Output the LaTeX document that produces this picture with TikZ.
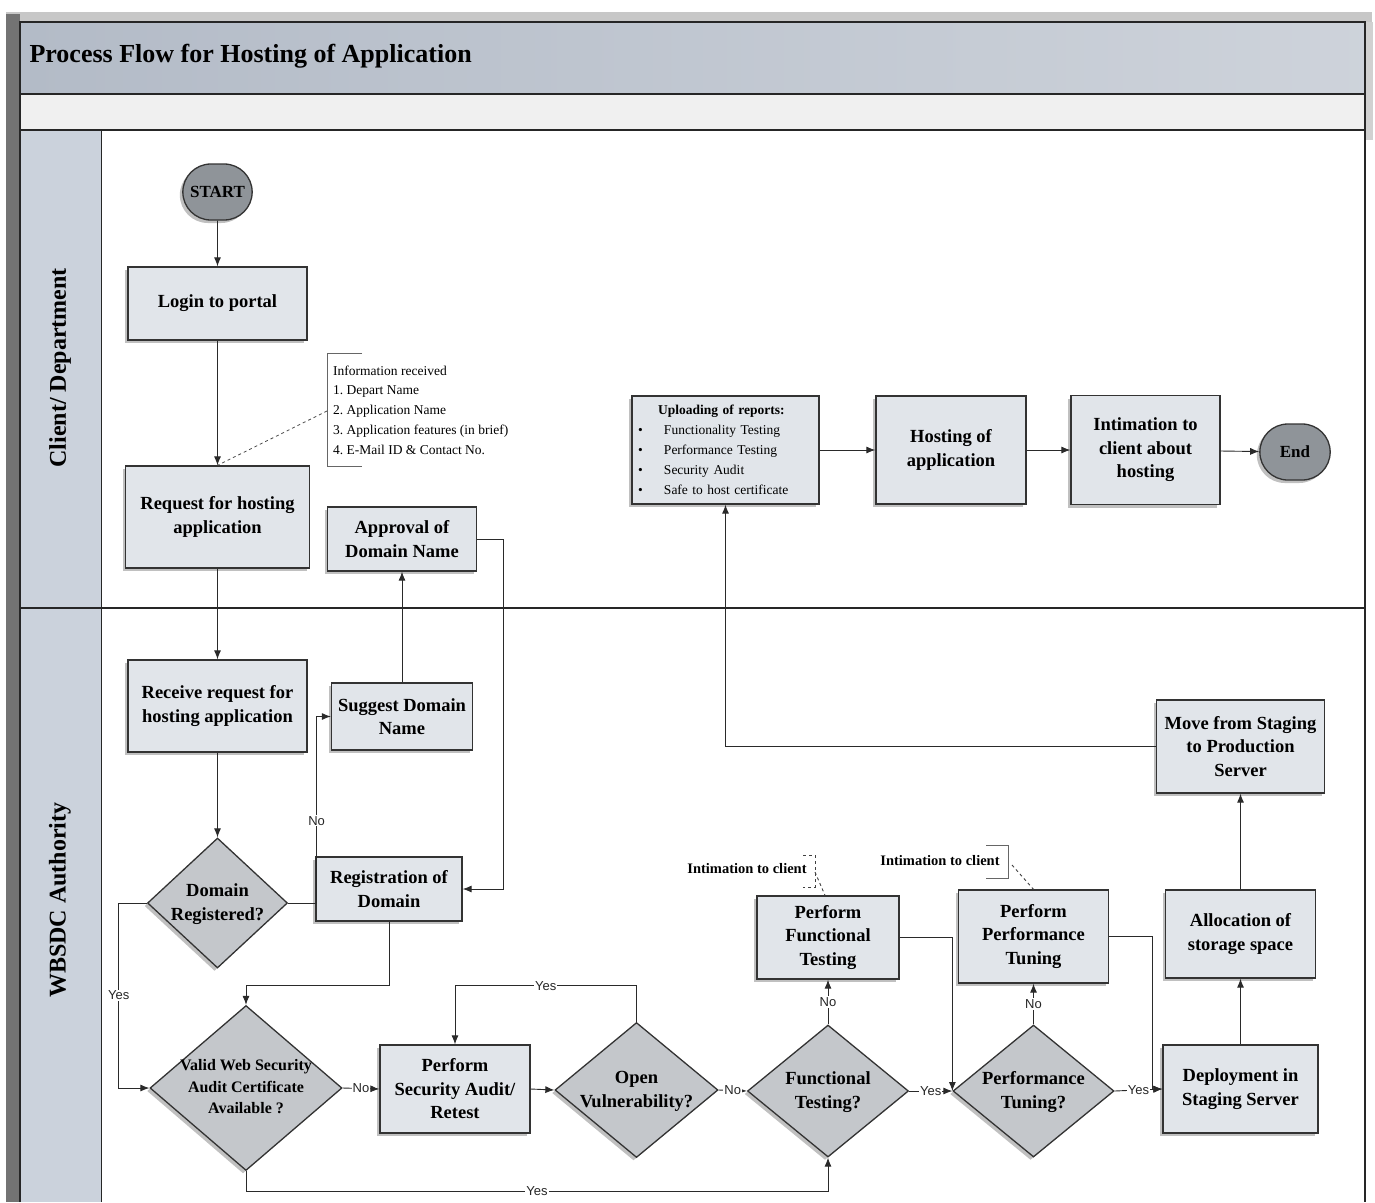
\documentclass[tikz,border=0pt]{standalone}
\usepackage{fontspec}
\setmainfont{Liberation Serif}
\newfontfamily\labfont{Liberation Sans}
\usetikzlibrary{shapes.geometric,shapes.misc,arrows.meta,shadows}
\frenchspacing
\definecolor{boxfill}{HTML}{E1E5EA}
\definecolor{diamfill}{HTML}{C4C7CB}
\definecolor{termfill}{HTML}{8F9499}
\definecolor{titlefill}{HTML}{B3BBC7}
\definecolor{lanefill}{HTML}{CBD2DC}
\definecolor{linecol}{HTML}{2A2A2A}
\newcommand{\boxfont}{\bfseries\fontsize{18.5}{23.5}\selectfont}
\newcommand{\dtxt}[1]{\makebox[0pt]{\raisebox{-0.28em}[0pt][0pt]{\begin{tabular}{@{}c@{}}#1\end{tabular}}}}
\tikzset{
  conn/.style={draw=linecol, line width=0.9pt},
  arr/.style={conn, -{Latex[length=9pt,width=7pt]}},
  shad/.style={drop shadow={shadow xshift=-3pt, shadow yshift=-3pt, opacity=0.35, fill=black!70}},
  box/.style={rectangle, draw=black!80, line width=1.3pt, fill=boxfill, align=center, font=\boxfont, inner sep=3pt, shad},
  diam/.style={diamond, draw=black!80, line width=1.3pt, fill=diamfill, inner sep=0pt, font=\boxfont, shad},
  term/.style={rounded rectangle, draw=black!80, line width=1.3pt, fill=termfill, font=\bfseries\fontsize{17}{20}\selectfont, minimum width=76pt, minimum height=56pt, shad},
  lab/.style={fill=white, font=\labfont\fontsize{13}{14}\selectfont, inner sep=1pt, text=black!85},
  lanelab/.style={rotate=90, font=\bfseries\fontsize{24}{28}\selectfont},
  note/.style={font=\bfseries\fontsize{14.5}{17}\selectfont, inner sep=1pt},
}
\begin{document}
\begin{tikzpicture}[x=1pt,y=-1pt]
\useasboundingbox (0,0) rectangle (1375,1202);
% background and frame
\fill[white] (0,0) rectangle (1375,1202);
\fill[black!22] (6,12) rectangle (1372,22);
\fill[black!55] (6,14) rectangle (20,1202);
\fill[black!18] (1365,22) rectangle (1373,140);
\shade[left color=titlefill, right color=titlefill!65!white] (20,22) rectangle (1365,94);
\fill[black!6] (20,94) rectangle (1365,130);
\fill[lanefill] (20,130) rectangle (101,1202);
\draw[black!85, line width=1.4pt] (20,1202) -- (20,22) -- (1365,22) -- (1365,1202);
\draw[black!85, line width=1.3pt] (20,94) -- (1365,94);
\draw[black!85, line width=1.3pt] (20,130) -- (1365,130);
\draw[black!85, line width=1.3pt] (20,608) -- (1365,608);
\draw[black!85, line width=1pt] (101,130) -- (101,1202);
\node[anchor=west, font=\bfseries\fontsize{26}{30}\selectfont] (title) at (26,56) {Process Flow for Hosting of Application};
\node[lanelab] (lane1) at (60,368) {Client/ Department};
\node[lanelab] (lane2) at (60,900) {WBSDC Authority};

% client lane
\node[term] (start) at (217.5,192) {START};
\node[box, minimum width=179pt, minimum height=73pt] (login) at (217.5,303.5) {Login to portal};
\node[box, minimum width=184pt, minimum height=102pt] (req) at (217.5,517) {Request for hosting\\application};
\node[box, minimum width=149pt, minimum height=64pt] (adn) at (402,539) {Approval of\\Domain Name};
\node[anchor=west, align=left, font=\fontsize{13.5}{19.8}\selectfont, inner sep=0pt] (info) at (333,410) {Information received\\1. Depart Name\\2. Application Name\\3. Application features (in brief)\\4. E-Mail ID \& Contact No.};
\draw[black!60, line width=0.8pt] (362,353) -- (327,353) -- (327,466) -- (362,466);
\coordinate (infoB) at (327,411);
\draw[black!70, dashed, line width=0.8pt] (infoB) -- (req.north);

\node[box, minimum width=187pt, minimum height=108pt, text width=175pt, align=left, font=\fontsize{13.5}{20}\selectfont] (up) at (725.5,450) {\hspace*{20pt}\textbf{Uploading of reports:}\\\makebox[26pt][l]{\textbullet}Functionality Testing\\\makebox[26pt][l]{\textbullet}Performance Testing\\\makebox[26pt][l]{\textbullet}Security Audit\\\makebox[26pt][l]{\textbullet}Safe to host certificate};
\node[box, minimum width=150pt, minimum height=108pt] (host) at (951,450) {Hosting of\\application};
\node[box, minimum width=149pt, minimum height=109pt] (icah) at (1145.5,450) {Intimation to\\client about\\hosting};
\node[term, minimum width=77pt] (end) at (1295,452) {End};

% authority lane
\node[box, minimum width=179pt, minimum height=92pt] (rcv) at (217.5,706) {Receive request for\\hosting application};
\node[box, minimum width=141pt, minimum height=67pt] (sdn) at (402,716.5) {Suggest Domain\\Name};
\node[diam, minimum width=140pt, minimum height=130pt] (dr) at (217.5,903) {\dtxt{Domain\\Registered?}};
\node[box, minimum width=146pt, minimum height=64pt] (rd) at (389,889) {Registration of\\Domain};
\node[diam, minimum width=192pt, minimum height=165pt, font=\bfseries\fontsize{16}{21.5}\selectfont] (vw) at (246,1088) {\dtxt{Valid Web Security\\Audit Certificate\\Available ?}};
\node[box, minimum width=150pt, minimum height=88pt] (psa) at (455,1089) {Perform\\Security Audit/\\Retest};
\node[diam, minimum width=163pt, minimum height=135pt] (ov) at (636.5,1090) {\dtxt{Open\\Vulnerability?}};
\node[diam, minimum width=161pt, minimum height=132pt] (fq) at (828,1091) {\dtxt{Functional\\Testing?}};
\node[box, minimum width=142pt, minimum height=83pt] (pft) at (828,937.5) {Perform\\Functional\\Testing};
\node[diam, minimum width=161pt, minimum height=132pt] (ptq) at (1033.5,1091) {\dtxt{Performance\\Tuning?}};
\node[box, minimum width=150pt, minimum height=93pt] (ppt) at (1033.5,936.5) {Perform\\Performance\\Tuning};
\node[box, minimum width=155pt, minimum height=88pt] (dep) at (1240.5,1089) {Deployment in\\Staging Server};
\node[box, minimum width=150pt, minimum height=88pt] (alloc) at (1240.5,934) {Allocation of\\storage space};
\node[box, minimum width=168pt, minimum height=93pt] (msp) at (1240.5,746.5) {Move from Staging\\to Production\\Server};

% intimation notes
\node[note] (int1) at (747,869) {Intimation to client};
\draw[black!75, dashed, line width=0.9pt] (803,855) -- (815,855) -- (815,887) -- (803,887);
\coordinate (int1B) at (815,872);
\draw[black!75, dashed, line width=0.9pt] (int1B) -- ([xshift=-3pt]pft.north);
\node[note] (int2) at (940,861) {Intimation to client};
\draw[black!60, line width=0.8pt] (986,845) -- (1008,845) -- (1008,878) -- (986,878);
\coordinate (int2B) at (1012,865);
\draw[black!75, dashed, line width=0.9pt] (int2B) -- (ppt.north);

% connectors
\draw[arr] (start) -- (login);
\draw[arr] (login) -- (req);
\draw[arr] (req) -- (rcv);
\draw[arr] (rcv) -- (dr);
\draw[arr] (dr.east) -- ++(28.5,0) |- node[lab,pos=0.22]{No} (sdn.west);
\draw[arr] (sdn) -- (adn);
\draw[arr] (adn.east) -- ++(26,0) |- (rd.east);
\draw[arr] (rd.south) -- ++(0,64) -| (vw.north);
\draw[arr] (dr.west) -- ++(-28,0) |- node[lab,pos=0.25]{Yes} (vw.west);
\draw[arr] (vw.east) -- node[lab]{No} (psa.west);
\draw[arr] (vw.south) -- ++(0,20) -| node[lab,pos=0.25]{Yes} (fq.south);
\draw[arr] (psa.east) -- (ov.west);
\draw[arr] (ov.north) -- ++(0,-36) -| node[lab,pos=0.25]{Yes} (psa.north);
\draw[arr] (ov.east) -- node[lab]{No} (fq.west);
\draw[arr] (fq.north) -- node[lab]{No} (pft.south);
\draw[arr] (fq.east) -- node[lab]{Yes} (ptq.west);
\draw[arr] (pft.east) -| (ptq.west);
\draw[arr] (ptq.north) -- node[lab]{No} (ppt.south);
\draw[arr] (ptq.east) -- node[lab]{Yes} (dep.west);
\draw[arr] (ppt.east) -- ++(43,0) |- (dep.west);
\draw[arr] (dep) -- (alloc);
\draw[arr] (alloc) -- (msp);
\draw[arr] (msp.west) -| (up.south);
\draw[arr] (up) -- (host);
\draw[arr] (host) -- (icah);
\draw[arr] (icah) -- (end);
\end{tikzpicture}
\end{document}
